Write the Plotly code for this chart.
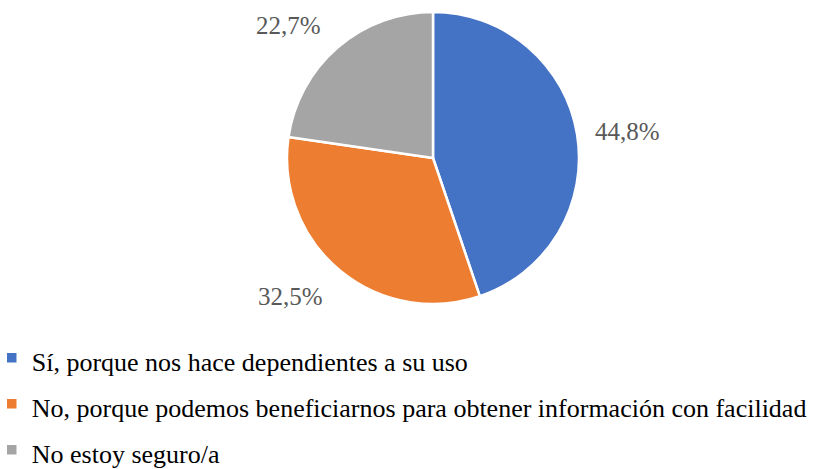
import math
import plotly.graph_objects as go

labels = [
    "Sí, porque nos hace dependientes a su uso",
    "No, porque podemos beneficiarnos para obtener información con facilidad",
    "No estoy seguro/a",
]
values = [44.8, 32.5, 22.7]
value_text = ["44,8%", "32,5%", "22,7%"]
colors = ["#4472C4", "#ED7D31", "#A5A5A5"]

W, H = 826, 469
cx, cy, r = 433, 158, 146
SERIF = "Liberation Serif"

fig = go.Figure(
    go.Pie(
        labels=[f'<span style="font-size:26px">{l}</span>' for l in labels],
        values=values,
        sort=False,
        direction="clockwise",
        rotation=0,
        textinfo="none",
        hoverinfo="label+percent",
        marker=dict(colors=colors, line=dict(color="white", width=2.5)),
        domain=dict(x=[(cx - r) / W, (cx + r) / W], y=[1 - (cy + r) / H, 1 - (cy - r) / H]),
    )
)

# data labels positioned from slice mid-angles
total = sum(values)
cum = 0
annotations = []
for v, t in zip(values, value_text):
    mid = (cum + v / 2) / total * 2 * math.pi
    cum += v
    s, c = math.sin(mid), math.cos(mid)
    px = cx + 148 * s + 48 * (1 if s >= 0 else -1)
    py = cy - 178 * c + 2
    annotations.append(dict(
        x=px / W, y=1 - py / H, xref="paper", yref="paper", text=t, showarrow=False,
        xanchor="center", yanchor="middle",
        font=dict(family=SERIF, size=25, color="#595959"),
    ))

fig.update_layout(
    width=W, height=H,
    margin=dict(l=0, r=0, t=0, b=0, autoexpand=False),
    font=dict(family=SERIF),
    paper_bgcolor="white", plot_bgcolor="white",
    showlegend=True,
    legend=dict(
        orientation="v", x=-0.01, y=-0.019, xanchor="left", yanchor="bottom",
        font=dict(family=SERIF, size=33, color="#000000"),
        itemwidth=30, bgcolor="rgba(0,0,0,0)",
    ),
    annotations=annotations,
)

fig.write_html("out.html", post_script="document.body.style.margin='0';", config={"displayModeBar": False})
